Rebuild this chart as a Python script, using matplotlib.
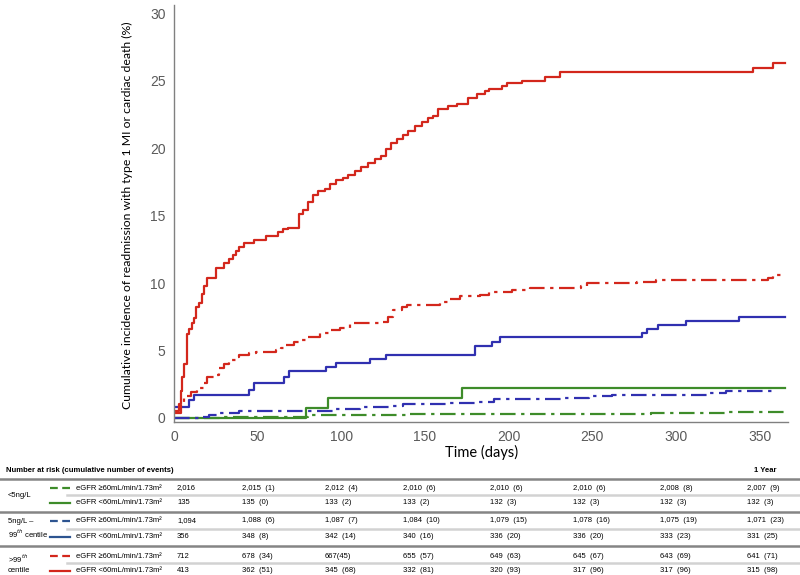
import matplotlib
matplotlib.use('Agg')
import matplotlib.pyplot as plt
from matplotlib.lines import Line2D

# Step curves: (day, cumulative incidence %) pairs
red_lo = [(0, 0.5), (3, 1.0), (4, 2.0), (5, 3.0), (6, 4.0), (8, 6.2), (9, 6.6), (11, 7.0),
          (12, 7.4), (13, 8.2), (15, 8.5), (17, 9.2), (18, 9.8), (20, 10.4), (25, 11.1),
          (30, 11.5), (33, 11.8), (35, 12.1), (37, 12.4), (39, 12.7), (42, 13.0), (48, 13.2),
          (55, 13.5), (62, 13.8), (65, 14.0), (68, 14.1), (75, 15.1), (77, 15.4), (80, 16.0),
          (83, 16.5), (86, 16.8), (90, 17.0), (93, 17.3), (97, 17.6), (101, 17.8), (104, 18.0),
          (108, 18.3), (112, 18.6), (116, 18.9), (120, 19.2), (124, 19.4), (127, 19.9),
          (130, 20.4), (133, 20.7), (137, 21.0), (140, 21.3), (144, 21.6), (148, 21.9),
          (152, 22.2), (155, 22.4), (158, 22.9), (164, 23.1), (169, 23.3), (176, 23.7),
          (181, 24.0), (186, 24.2), (188, 24.4), (196, 24.6), (199, 24.8), (208, 25.0),
          (222, 25.3), (231, 25.6), (346, 25.9), (358, 26.3), (365, 26.3)]
red_hi = [(0, 0.4), (4, 1.0), (6, 1.6), (10, 1.9), (14, 2.2), (18, 2.6), (20, 3.0), (24, 3.2),
          (27, 3.7), (30, 4.0), (33, 4.3), (37, 4.5), (39, 4.7), (45, 4.8), (49, 4.9), (61, 5.0),
          (64, 5.2), (67, 5.4), (72, 5.6), (75, 5.8), (80, 6.0), (87, 6.3), (93, 6.5), (99, 6.7),
          (105, 7.0), (123, 7.1), (128, 7.5), (131, 8.0), (136, 8.2), (139, 8.4), (159, 8.6),
          (165, 8.8), (171, 9.0), (183, 9.1), (188, 9.3), (202, 9.5), (213, 9.6), (243, 9.8),
          (247, 10.0), (277, 10.1), (288, 10.2), (355, 10.4), (358, 10.6), (365, 10.6)]
blue_lo = [(0, 0.8), (9, 1.3), (12, 1.7), (45, 2.1), (48, 2.6), (66, 3.0), (69, 3.5), (91, 3.8),
           (97, 4.1), (117, 4.4), (127, 4.7), (180, 5.3), (190, 5.6), (195, 6.0), (280, 6.3),
           (283, 6.6), (289, 6.9), (306, 7.2), (338, 7.5), (365, 7.5)]
blue_hi = [(0, 0.0), (16, 0.1), (21, 0.2), (27, 0.4), (39, 0.55), (95, 0.7), (111, 0.8),
           (131, 0.9), (137, 1.0), (163, 1.1), (182, 1.2), (191, 1.4), (232, 1.5), (248, 1.6),
           (262, 1.7), (320, 1.85), (330, 2.0), (359, 2.0)]
green_lo = [(0, 0.0), (79, 0.74), (92, 1.48), (172, 2.22), (365, 2.22)]
green_hi = [(0, 0.0), (30, 0.05), (60, 0.1), (80, 0.2), (100, 0.25), (140, 0.3), (285, 0.4),
            (330, 0.45), (365, 0.45)]

# Number at risk table
group_labels = ['<5ng/L', '5ng/L \u2013\n99$^{th}$ centile', '>99$^{th}$\ncentile']
row_labels = ['eGFR \u226560mL/min/1.73m\u00b2', 'eGFR <60mL/min/1.73m\u00b2'] * 3
risk_rows = [
    ['2,016', '2,015  (1)', '2,012  (4)', '2,010  (6)', '2,010  (6)', '2,010  (6)', '2,008  (8)', '2,007  (9)'],
    ['135', '135  (0)', '133  (2)', '133  (2)', '132  (3)', '132  (3)', '132  (3)', '132  (3)'],
    ['1,094', '1,088  (6)', '1,087  (7)', '1,084  (10)', '1,079  (15)', '1,078  (16)', '1,075  (19)', '1,071  (23)'],
    ['356', '348  (8)', '342  (14)', '340  (16)', '336  (20)', '336  (20)', '333  (23)', '331  (25)'],
    ['712', '678  (34)', '667(45)', '655  (57)', '649  (63)', '645  (67)', '643  (69)', '641  (71)'],
    ['413', '362  (51)', '345  (68)', '332  (81)', '320  (93)', '317  (96)', '317  (96)', '315  (98)'],
]

GREEN = '#3e8c2a'
BLUE = '#3030b0'
RED = '#d3271c'
TBL_BLUE = '#2d5490'
DASHDOT = (0, (7, 2.5, 1.5, 2.5))

series = [
    (green_hi, GREEN, DASHDOT),
    (green_lo, GREEN, '-'),
    (blue_hi, BLUE, DASHDOT),
    (blue_lo, BLUE, '-'),
    (red_hi, RED, DASHDOT),
    (red_lo, RED, '-'),
]

W, H = 800, 575
fig = plt.figure(figsize=(8, 5.75), dpi=100)
ax = fig.add_axes([174 / W, 1 - 422 / H, (788 - 174) / W, (422 - 5) / H])

for pts, col, ls in series:
    t = [p[0] for p in pts]
    y = [p[1] for p in pts]
    ax.plot(t, y, drawstyle='steps-post', color=col, linestyle=ls, linewidth=1.6)

ax.set_xlim(0, 367)
ax.set_ylim(-0.3, 30.6)
ax.set_xticks([0, 50, 100, 150, 200, 250, 300, 350])
ax.set_yticks([0, 5, 10, 15, 20, 25, 30])
for s in ['top', 'right']:
    ax.spines[s].set_visible(False)
for s in ['left', 'bottom']:
    ax.spines[s].set_color('#808080')
    ax.spines[s].set_linewidth(1.0)
ax.tick_params(length=0, pad=6, labelsize=10, labelcolor='#5a5a5a')
for lab in ax.get_xticklabels() + ax.get_yticklabels():
    lab.set_family('Liberation Sans')
ax.set_ylabel('Cumulative incidence of readmission with type 1 MI or cardiac death (%)',
              fontsize=8.8, family='Lato')
ax.yaxis.set_label_coords((133 - 174) / (788 - 174), (422 - 215) / 417)
fig.text(482 / W, 1 - 452 / H, 'Time (days)', fontsize=10.5, family='Lato',
         ha='center', va='center')


def fy(py):
    return 1 - py / H


def hline(py, x0, col, lw):
    fig.add_artist(Line2D([x0 / W, 1], [fy(py), fy(py)], color=col, linewidth=lw,
                          transform=fig.transFigure))


tfont = dict(family='Liberation Sans', fontsize=5.5, va='center')
fig.text(6 / W, fy(471), 'Number at risk (cumulative number of events)',
         fontweight='bold', **tfont)
fig.text(754 / W, fy(471), '1 Year', fontweight='bold', **tfont)

row_py = [488, 503, 521, 537, 556, 571]
col_px = [177, 242, 325, 403, 490, 573, 660, 747]
for py in [479, 512, 546]:
    hline(py, 0, '#858585', 1.8)
for py in [495, 529, 563]:
    hline(py, 67, '#d2d2d2', 1.8)

for g, lab in enumerate(group_labels):
    ymid = (row_py[2 * g] + row_py[2 * g + 1]) / 2
    fig.text(8 / W, fy(ymid), lab, linespacing=1.3, **tfont)

legend_cols = [GREEN, GREEN, TBL_BLUE, TBL_BLUE, RED, RED]
for i, py in enumerate(row_py):
    ls = (0, (3.5, 2)) if i % 2 == 0 else '-'
    fig.add_artist(Line2D([50 / W, 70 / W], [fy(py), fy(py)], color=legend_cols[i],
                          linewidth=1.6, linestyle=ls, transform=fig.transFigure))
    fig.text(76 / W, fy(py), row_labels[i], **tfont)
    for x, val in zip(col_px, risk_rows[i]):
        fig.text(x / W, fy(py), val, **tfont)

fig.savefig('out.png', dpi=100)
